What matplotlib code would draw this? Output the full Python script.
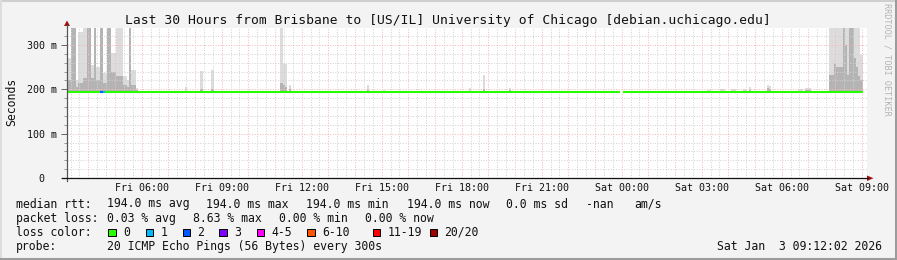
import numpy as np
import pandas as pd
import matplotlib
matplotlib.use('Agg')
import matplotlib.pyplot as plt
import matplotlib.dates as mdates
from matplotlib.ticker import MultipleLocator, FuncFormatter
from matplotlib.patches import Rectangle, Polygon
from matplotlib.lines import Line2D

W, H = 897, 260

title = 'Last 30 Hours from Brisbane to [US/IL] University of Chicago [debian.uchicago.edu]'
start = pd.Timestamp('2026-01-02 03:12:02')
end = pd.Timestamp('2026-01-03 09:12:02')
step_min = 5
n_bins = 358
median_ms = 194.0

# smoke per 5 min bin: max ping and inner (denser) band, ms
smoke_bins = [0, 1, 2, 3, 4, 5, 6, 7, 8, 9, 10, 11, 12, 13, 14, 15, 16, 17, 18, 19,
              20, 21, 22, 23, 24, 25, 26, 27, 28, 29, 30, 31,
              53, 60, 65, 96, 97, 98, 100, 135, 142, 181, 187, 199,
              288, 289, 294, 295, 299, 300, 304, 305, 307, 315, 316, 329, 330, 332, 333, 334,
              343, 344, 345, 346, 347, 348, 349, 350, 351, 352, 353, 354, 355, 356, 357]
smoke_hi = [271, 271, 340, 340, 221, 330, 330, 340, 340, 340, 340, 255, 340, 250, 250, 340, 237, 237, 340, 340,
            282, 282, 340, 340, 340, 230, 230, 221, 340, 244, 244, 203,
            205, 241, 244, 340, 258, 258, 210, 210, 199, 203, 232, 203,
            199, 199, 201, 201, 201, 201, 201, 201, 206, 210, 207, 201, 201, 203, 203, 203,
            340, 340, 340, 340, 340, 340, 340, 340, 340, 340, 340, 340, 340, 340, 278]
smoke_mid = [222, 222, 340, 340, 205, 215, 215, 225, 225, 340, 340, 225, 340, 220, 220, 340, 215, 215, 340, 340,
             240, 240, 230, 230, 230, 210, 210, 205, 340, 210, 210, 198,
             197, 200, 200, 215, 210, 205, 200, 198, 196, 197, 200, 198,
             196, 196, 197, 197, 197, 197, 197, 197, 199, 202, 200, 197, 197, 198, 198, 198,
             232, 232, 260, 250, 250, 250, 340, 300, 232, 340, 340, 270, 250, 230, 220]

loss_bins = [15, 16]
loss_pings = [2, 1]
gap_bins = [249]

loss_labels = ['0', '1', '2', '3', '4-5', '6-10', '11-19', '20/20']
loss_colors = ['#26ff00', '#00b8ff', '#0059ff', '#7e00ff', '#ff00ff', '#ff5500', '#ff0000', '#a10000']

rtt_stats = ['194.0 ms avg', '194.0 ms max', '194.0 ms min', '194.0 ms now', '0.0 ms sd', '-nan', 'am/s']
loss_stats = ['0.03 % avg', '8.63 % max', '0.00 % min', '0.00 % now']
probe_text = '20 ICMP Echo Pings (56 Bytes) every 300s'
stamp = 'Sat Jan  3 09:12:02 2026'

MONO = 'DejaVu Sans Mono'
BG = '#f3f3f3'


def fx(x):
    return x / W


def fy(y):
    return 1 - y / H


fig = plt.figure(figsize=(W / 100, H / 100), dpi=100, facecolor=BG)
ax = fig.add_axes([fx(67), fy(178), 800 / W, 150 / H])
ax.set_facecolor('white')

t0 = mdates.date2num(start.to_pydatetime())
t1 = mdates.date2num(end.to_pydatetime())
bin_w = step_min / 1440.0
ax.set_xlim(t0, t1)
ax.set_ylim(0, 338.3)

# smoke
xs = t0 + np.array(smoke_bins) * bin_w
hi = np.array(smoke_hi, dtype=float)
mid = np.array(smoke_mid, dtype=float)
ax.bar(xs, hi - median_ms, bottom=median_ms, width=bin_w, align='edge',
       color='#dcdcdc', linewidth=0, antialiased=False, zorder=1)
ax.bar(xs, mid - median_ms, bottom=median_ms, width=bin_w, align='edge',
       color='#b4b4b4', linewidth=0, antialiased=False, zorder=1.1)

# grid (drawn over the smoke, like rrdtool)
grey = '#d2d2d2'
red = '#f7b9b9'
dots = (0, (1, 1.6))
for t in pd.date_range(start.ceil('20min'), end, freq='20min'):
    c = red if t.minute == 0 else grey
    ax.axvline(mdates.date2num(t.to_pydatetime()), color=c, lw=0.72, ls=dots, zorder=2)
for v in range(20, 340, 20):
    c = red if v % 100 == 0 else grey
    ax.axhline(v, color=c, lw=0.72, ls=dots, zorder=2)

# median line coloured by loss
loss_at = dict(zip(loss_bins, loss_pings))


def loss_index(n):
    if n <= 3:
        return n
    if n <= 5:
        return 4
    if n <= 10:
        return 5
    if n <= 19:
        return 6
    return 7


seg_x0, seg_x1, seg_c = [], [], []
for i in range(n_bins):
    if i in gap_bins:
        continue
    seg_x0.append(t0 + i * bin_w)
    seg_x1.append(t0 + (i + 1) * bin_w)
    seg_c.append(loss_colors[loss_index(loss_at.get(i, 0))])
ax.hlines([median_ms] * len(seg_x0), seg_x0, seg_x1, colors=seg_c, lw=1.5, zorder=3)

# axes styling
for s in ax.spines.values():
    s.set_visible(False)

ax.xaxis.set_major_locator(mdates.HourLocator(byhour=range(0, 24, 3)))
ax.xaxis.set_major_formatter(mdates.DateFormatter('%a %H:%M'))
ax.tick_params(axis='x', length=0, pad=3.5, labelsize=7.2, labelcolor='#111111')
ax.yaxis.set_major_locator(MultipleLocator(100))
ax.yaxis.set_minor_locator(MultipleLocator(20))
ax.yaxis.set_major_formatter(FuncFormatter(lambda v, p: '0  ' if v == 0 else '%d m' % v))
ax.tick_params(axis='y', which='major', length=4, width=0.72, color='#666666',
               pad=3, labelsize=7.2, labelcolor='#111111')
ax.tick_params(axis='y', which='minor', length=2, width=0.72, color='#999999')
for lab in ax.get_xticklabels() + ax.get_yticklabels():
    lab.set_fontfamily(MONO)

# axis lines with rrdtool arrows
fig.add_artist(Line2D([fx(67), fx(67)], [fy(181), fy(25)], color='#555555', lw=0.9))
fig.add_artist(Line2D([fx(62), fx(868)], [fy(178), fy(178)], color='#111111', lw=0.9))
fig.add_artist(Polygon([[fx(64), fy(26)], [fx(70), fy(26)], [fx(67), fy(20.5)]], closed=True,
                       color='#a01010', lw=0))
fig.add_artist(Polygon([[fx(867), fy(175.5)], [fx(867), fy(181)], [fx(873.5), fy(178.2)]], closed=True,
                       color='#a01010', lw=0))

# title and labels
fig.text(fx(448), fy(24), title, ha='center', va='baseline', fontsize=9.4, family=MONO, color='#111111')
fig.text(fx(11.5), fy(101.5), 'Seconds', rotation=90, ha='center', va='center', fontsize=8.3,
         family=MONO, color='#111111')
fig.text(fx(887), fy(59), 'RRDTOOL / TOBI OETIKER', rotation=270, ha='center', va='center',
         fontsize=6.1, family=MONO, color='#b4b4b4')

# legend block
leg = dict(fontsize=8.3, family=MONO, color='#111111', va='baseline', ha='left')
base = [207.5, 221.7, 235.9, 250.1]
fig.text(fx(15.5), fy(base[0]), 'median rtt:', **leg)
for s, x in zip(rtt_stats, [106.8, 206.2, 306.5, 406.5, 506.2, 586.2, 634.5]):
    fig.text(fx(x), fy(base[0]), s, **leg)
fig.text(fx(15.5), fy(base[1]), 'packet loss:', **leg)
for s, x in zip(loss_stats, [106.8, 192.8, 278.8, 365.2]):
    fig.text(fx(x), fy(base[1]), s, **leg)
fig.text(fx(15.5), fy(base[2]), 'loss color:', **leg)
box_x = [108.3, 145.7, 182.7, 219.3, 256.7, 307.3, 372.7, 430]
for lab, col, bx in zip(loss_labels, loss_colors, box_x):
    fig.add_artist(Rectangle((fx(bx), fy(base[2])), 7.3 / W, 7.3 / H, facecolor=col,
                             edgecolor='black', lw=0.72))
    fig.text(fx(bx + 14.5), fy(base[2]), lab, **leg)
fig.text(fx(15.5), fy(base[3]), 'probe:', **leg)
fig.text(fx(106.8), fy(base[3]), probe_text, **leg)
fig.text(fx(881.5), fy(base[3]), stamp, **dict(leg, ha='right'))

# 3d frame
fig.add_artist(Line2D([0, 1], [fy(1), fy(1)], color='#cfcfcf', lw=1.5))
fig.add_artist(Line2D([fx(1), fx(1)], [0, 1], color='#dddddd', lw=1.5))
fig.add_artist(Line2D([0, 1], [fy(258.5), fy(258.5)], color='#9c9c9c', lw=2.2))
fig.add_artist(Line2D([fx(895.5), fx(895.5)], [0, 1], color='#9c9c9c', lw=2.2))

fig.savefig('out.png', dpi=100, facecolor=BG)
